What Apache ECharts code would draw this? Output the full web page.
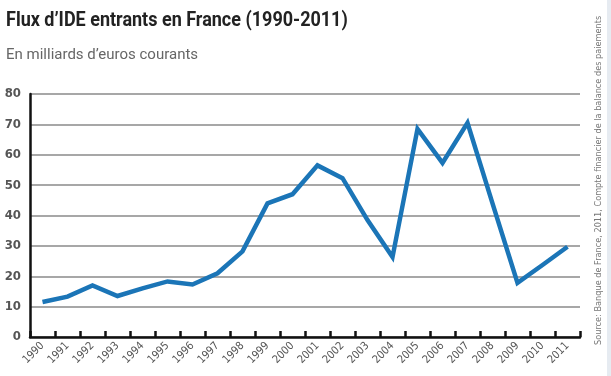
<!DOCTYPE html>
<html>
<head>
<meta charset="utf-8">
<script src="https://cdn.jsdelivr.net/npm/echarts@6/dist/echarts.min.js"></script>
<style>
  html, body { margin: 0; padding: 0; background: #fff; }
  #main { width: 611px; height: 376px; }
</style>
</head>
<body>
<div id="main"></div>
<script>
var years = ['1990', '1991', '1992', '1993', '1994', '1995', '1996', '1997', '1998', '1999', '2000',
    '2001', '2002', '2003', '2004', '2005', '2006', '2007', '2008', '2009', '2010', '2011'];
// milliards d'euros courants
var ide_values = [11.5, 13.3, 17, 13.5, 16, 18.3, 17.3, 21, 28.2, 44, 47, 56.5, 52.3, 38.5, 26.3, 68.5, 57.3, 70.5, 44, 17.8, 23.7, 29.7];
var y_ticks = [0, 10, 20, 30, 40, 50, 60, 70, 80];

var main_chart = echarts.init(document.getElementById('main'));
var cond_font = '"DejaVu Sans Condensed", "Liberation Sans Narrow", sans-serif';

main_option = {
    animation: false,
    grid: {
        left: 30,
        right: 31,
        top: 94,
        bottom: 39
    },
    xAxis: {
        type: 'category',
        data: years,
        boundaryGap: true,
        axisLine: { lineStyle: { color: '#111', width: 2.5 } },
        axisTick: { show: true, length: 6, inside: true, lineStyle: { color: '#111', width: 2.5 } },
        axisLabel: {
            interval: 0,
            rotate: 45,
            margin: 7,
            fontFamily: cond_font,
            fontSize: 11,
            color: '#555'
        }
    },
    yAxis: {
        type: 'value',
        min: y_ticks[0],
        max: y_ticks[y_ticks.length - 1],
        interval: 10,
        axisLine: { show: true, lineStyle: { color: '#111', width: 2.5 } },
        axisTick: { show: false },
        axisLabel: {
            margin: 9,
            fontFamily: cond_font,
            fontSize: 13,
            fontWeight: 'bold',
            color: '#555'
        },
        splitLine: { lineStyle: { color: '#8a8a8a', width: 1.5 } }
    },
    series: [
        {
            name: 'IDE entrants',
            type: 'line',
            data: ide_values,
            showSymbol: false,
            lineStyle: { color: '#1b75b7', width: 4.5, join: 'miter' },
            z: 3
        }
    ],
    graphic: [
        {
            type: 'text',
            x: 6,
            y: 21,
            scaleX: 0.9,
            style: {
                text: 'Flux d\u2019IDE entrants en France (1990-2011)',
                fontFamily: 'Roboto, sans-serif',
                fontSize: 20,
                fontWeight: 'bold',
                fill: '#222',
                textAlign: 'left',
                textVerticalAlign: 'middle'
            }
        },
        {
            type: 'text',
            x: 6,
            y: 55,
            style: {
                text: 'En milliards d\u2019euros courants',
                fontFamily: 'Roboto, sans-serif',
                fontSize: 15,
                fill: '#666',
                textAlign: 'left',
                textVerticalAlign: 'middle'
            }
        },
        {
            type: 'text',
            x: 599,
            y: 345,
            rotation: Math.PI / 2,
            style: {
                text: 'Source: Banque de France, 2011, Compte financier de la balance des paiements',
                fontFamily: cond_font,
                fontSize: 9.1,
                fill: '#777',
                textAlign: 'left',
                textVerticalAlign: 'middle'
            }
        },
        {
            type: 'rect',
            shape: { x: 607, y: 0, width: 4, height: 376 },
            style: { fill: '#e6ebf1' }
        }
    ]
};

main_chart.setOption(main_option);
</script>
</body>
</html>
